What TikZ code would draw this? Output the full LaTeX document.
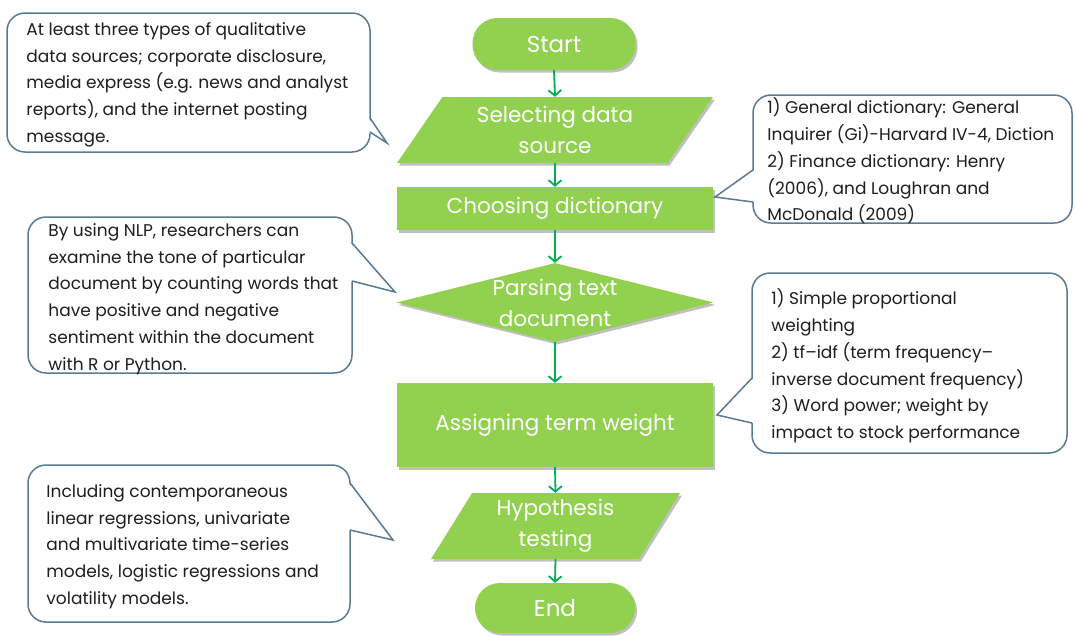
\documentclass[tikz,border=0pt]{standalone}
\usepackage{fontspec}
\setmainfont{Poppins}
\usetikzlibrary{shapes.geometric,arrows.meta,shadows}
\definecolor{flowgreen}{HTML}{92D050}
\definecolor{arrowgreen}{HTML}{00B050}
\definecolor{callborder}{HTML}{5A7A94}
\definecolor{calltext}{HTML}{1E1E1E}
\begin{document}
\begin{tikzpicture}[x=1pt,y=-1pt,
  shapefont/.style={font=\fontsize{21.5}{31}\selectfont},
  shapebase/.style={fill=flowgreen, draw=none, text=white, shapefont, align=center, inner sep=0pt,
     drop shadow={shadow xshift=2pt, shadow yshift=-2.5pt, opacity=0.35, fill=black!70}},
  terminal/.style={shapebase, rectangle, rounded corners=25pt},
  processbox/.style={shapebase, rectangle, minimum width=316pt},
  iobox/.style={shapebase, trapezium, trapezium stretches body},
  decision/.style={shapebase, diamond},
  shapelabel/.style={text=white, shapefont, align=center, inner sep=0pt},
  flowarrow/.style={draw=arrowgreen, line width=1.8pt, -{Straight Barb[length=5.5pt,width=13pt,line width=1.8pt]}},
  callout/.style={draw=callborder, line width=1.5pt, fill=white, rounded corners=18pt, rectangle, inner sep=0pt},
  calltxt/.style={anchor=west, inner sep=0pt, align=left, text=calltext, font=\fontsize{17}{26.7}\selectfont},
  tailfill/.style={fill=white, draw=none},
  tailline/.style={draw=callborder, line width=1.5pt, line join=miter},
]
\useasboundingbox[fill=white] (0,0) rectangle (1075,635);

% ---------- flow shapes ----------
\node[terminal, minimum width=163pt, minimum height=52pt, font=\fontsize{23}{31}\selectfont] (start) at (554,44) {Start};
\node[iobox, trapezium left angle=46.3, trapezium right angle=133.7, minimum width=316pt, minimum height=66pt] (sel) at (555,130) {Selecting data\\source};
\node[processbox, minimum height=43pt] (dict) at (555,208.5) {Choosing dictionary};
\node[decision, minimum width=317pt, minimum height=79pt] (parse) at (555,302.5) {};
\node[shapelabel] (parsetxt) at (parse.center) {Parsing text\\document};
\node[processbox, minimum height=84pt] (assign) at (555,425) {Assigning term weight};
\node[iobox, trapezium left angle=52.3, trapezium right angle=127.7, minimum width=249pt, minimum height=66pt] (hyp) at (555.5,526) {Hypothesis\\testing};
\node[terminal, minimum width=160pt, minimum height=50pt, font=\fontsize{23}{31}\selectfont] (end) at (555,608) {End};

% ---------- connectors ----------
\draw[flowarrow] (start.south) -- (sel.north);
\draw[flowarrow] (sel.south) -- (dict.north);
\draw[flowarrow] (dict.south) -- (parse.north);
\draw[flowarrow] (parse.south) -- (assign.north);
\draw[flowarrow] (assign.south) -- (hyp.north);
\draw[flowarrow] (hyp.south) -- (end.north);

% ---------- callouts ----------
\node[callout, minimum width=363pt, minimum height=139pt] (c1) at (188.5,82.5) {};
\fill[tailfill] (368.5,118) -- (387,143) -- (368.5,132) -- cycle;
\draw[tailline] (370,118) -- (387,143) -- (370,132);
\node[calltxt] (c1txt) at ([xshift=20pt,yshift=-2pt]c1.west)
  {At least three types of qualitative\\data sources; corporate disclosure,\\media express (e.g. news and analyst\\reports), and the internet posting\\message.};

\node[callout, minimum width=319pt, minimum height=128pt] (c2) at (912.5,159) {};
\fill[tailfill] (754.5,170) -- (715,197) -- (754.5,202) -- cycle;
\draw[tailline] (753,170) -- (715,197) -- (753,202);
\node[calltxt] (c2txt) at ([xshift=15pt,yshift=-2pt]c2.west)
  {1) General dictionary: General\\Inquirer (Gi)-Harvard IV-4, Diction\\2) Finance dictionary: Henry\\(2006), and Loughran and\\McDonald (2009)};

\node[callout, minimum width=324pt, minimum height=156pt] (c3) at (190,295) {};
\fill[tailfill] (350.5,243) -- (395,292) -- (350.5,281) -- cycle;
\draw[tailline] (352,243) -- (395,292) -- (352,281);
\node[calltxt] (c3txt) at ([xshift=21pt,yshift=-4pt]c3.west)
  {By using NLP, researchers can\\examine the tone of particular\\document by counting words that\\have positive and negative\\sentiment within the document\\with R or Python.};

\node[callout, minimum width=315pt, minimum height=180pt] (c4) at (909.5,363) {};
\fill[tailfill] (753.5,378) -- (717,415) -- (753.5,423) -- cycle;
\draw[tailline] (752,378) -- (717,415) -- (752,423);
\node[calltxt] (c4txt) at ([xshift=20pt,yshift=-3pt]c4.west)
  {1) Simple proportional\\weighting\\2) tf--idf (term frequency--\\inverse document frequency)\\3) Word power; weight by\\impact to stock performance};

\node[callout, minimum width=322pt, minimum height=157pt] (c5) at (189,543.5) {};
\fill[tailfill] (348.5,483) -- (393,540) -- (348.5,530) -- cycle;
\draw[tailline] (350,483) -- (393,540) -- (350,530);
\node[calltxt] (c5txt) at ([xshift=19pt,yshift=-3pt]c5.west)
  {Including contemporaneous\\linear regressions, univariate\\and multivariate time-series\\models, logistic regressions and\\volatility models.};
\end{tikzpicture}
\end{document}
